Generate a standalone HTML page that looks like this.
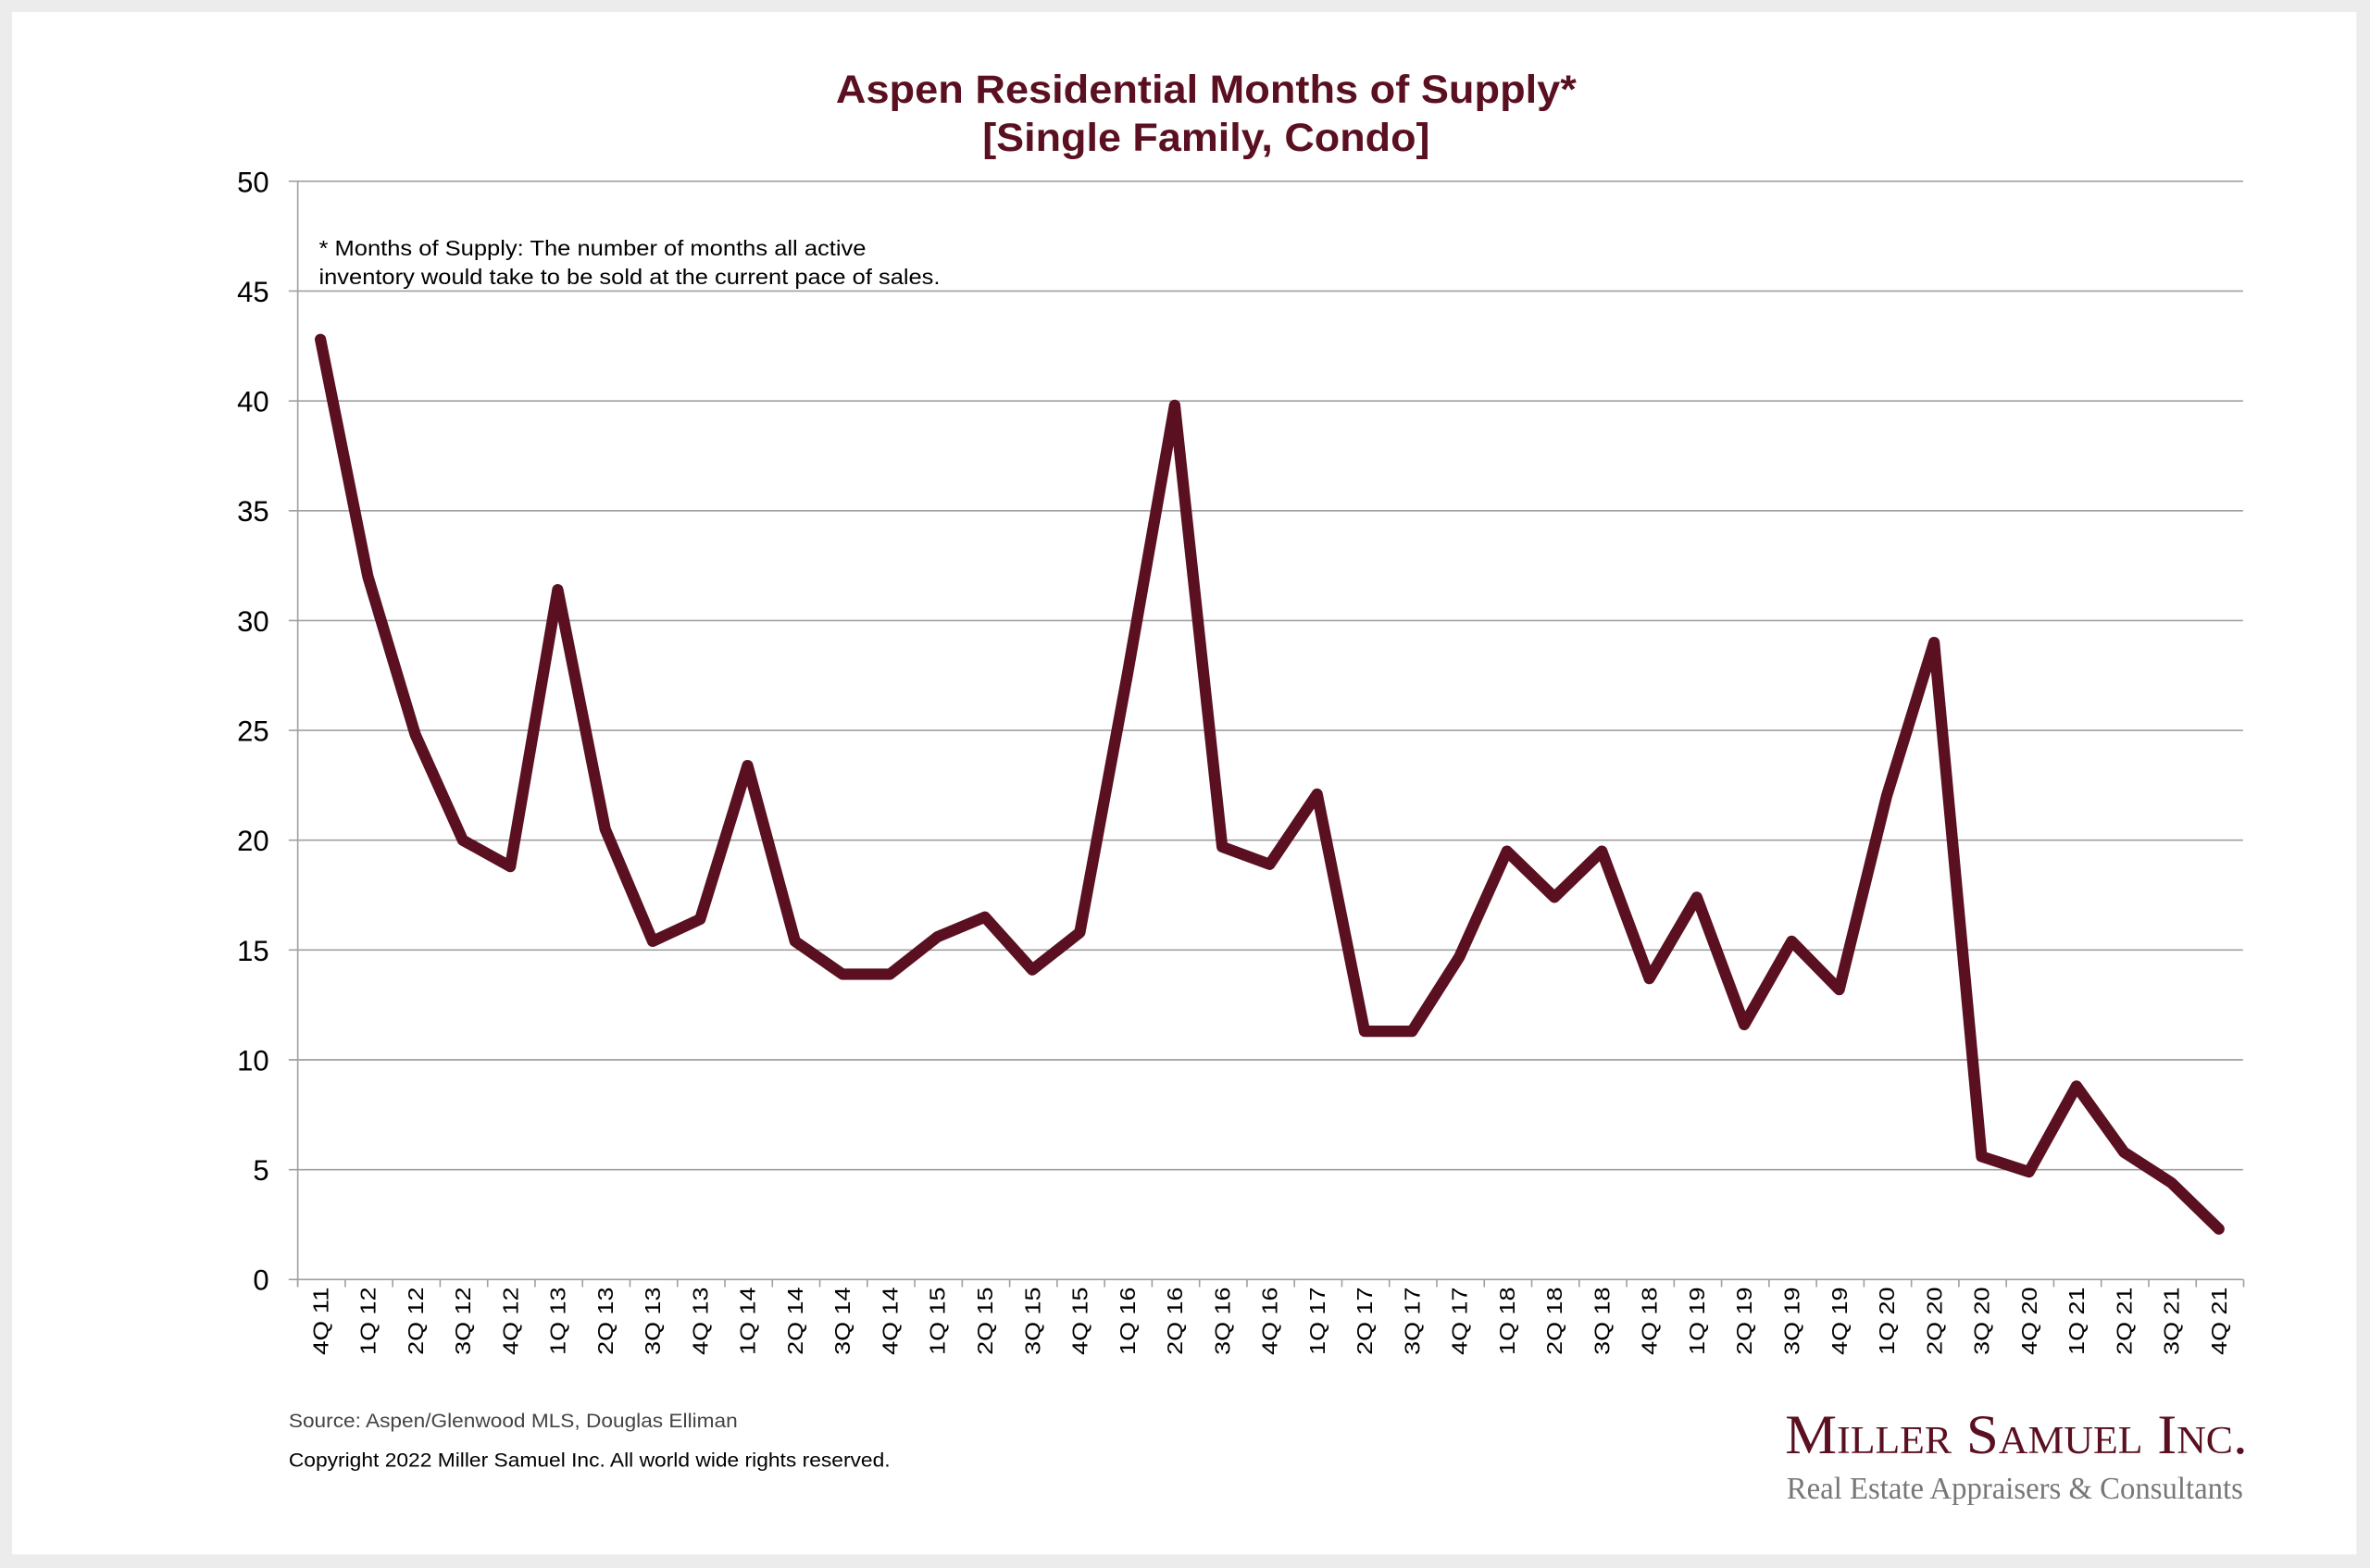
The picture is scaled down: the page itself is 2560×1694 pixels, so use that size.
<!DOCTYPE html>
<html><head><meta charset="utf-8"><style>
html,body{margin:0;padding:0;background:#ececec;}
svg{display:block;}
text{font-family:"Liberation Sans",Arial,sans-serif;}
</style></head><body>
<svg width="2560" height="1694" viewBox="0 0 1568 1038" preserveAspectRatio="none" xmlns="http://www.w3.org/2000/svg">
<rect x="0" y="0" width="1568" height="1038" fill="#ececec"/>
<rect x="8" y="8" width="1551" height="1021" fill="#ffffff"/>
<text x="798" y="68" text-anchor="middle" font-size="26" font-weight="bold" fill="#5a1020" textLength="490" lengthAdjust="spacingAndGlyphs">Aspen Residential Months of Supply*</text>
<text x="798" y="100" text-anchor="middle" font-size="26" font-weight="bold" fill="#5a1020" textLength="296" lengthAdjust="spacingAndGlyphs">[Single Family, Condo]</text>
<g stroke="#a0a0a0" stroke-width="1">
<line x1="191" y1="120" x2="1484" y2="120"/>
<line x1="191" y1="192.7" x2="1484" y2="192.7"/>
<line x1="191" y1="265.4" x2="1484" y2="265.4"/>
<line x1="191" y1="338.1" x2="1484" y2="338.1"/>
<line x1="191" y1="410.8" x2="1484" y2="410.8"/>
<line x1="191" y1="483.5" x2="1484" y2="483.5"/>
<line x1="191" y1="556.2" x2="1484" y2="556.2"/>
<line x1="191" y1="628.9" x2="1484" y2="628.9"/>
<line x1="191" y1="701.6" x2="1484" y2="701.6"/>
<line x1="191" y1="774.3" x2="1484" y2="774.3"/>
<line x1="191" y1="847" x2="1484" y2="847"/>
<line x1="197" y1="120" x2="197" y2="852"/>
</g>
<g stroke="#a0a0a0" stroke-width="1">
<path d="M197 847v5M228.4 847v5M259.8 847v5M291.2 847v5M322.6 847v5M354 847v5M385.4 847v5M416.8 847v5M448.2 847v5M479.6 847v5M511 847v5M542.4 847v5M573.8 847v5M605.2 847v5M636.6 847v5M668 847v5M699.4 847v5M730.8 847v5M762.2 847v5M793.6 847v5M825 847v5M856.4 847v5M887.8 847v5M919.2 847v5M950.6 847v5M982 847v5M1013.4 847v5M1044.8 847v5M1076.2 847v5M1107.6 847v5M1139 847v5M1170.4 847v5M1201.8 847v5M1233.2 847v5M1264.6 847v5M1296 847v5M1327.4 847v5M1358.8 847v5M1390.2 847v5M1421.6 847v5M1453 847v5M1484.4 847v5"/>
</g>
<g font-size="19" fill="#000" text-anchor="end">
<text x="178" y="127">50</text>
<text x="178" y="199.7">45</text>
<text x="178" y="272.4">40</text>
<text x="178" y="345.1">35</text>
<text x="178" y="417.8">30</text>
<text x="178" y="490.5">25</text>
<text x="178" y="563.2">20</text>
<text x="178" y="635.9">15</text>
<text x="178" y="708.6">10</text>
<text x="178" y="781.3">5</text>
<text x="178" y="854">0</text>
</g>
<text x="211" y="169" font-size="14" fill="#000" textLength="362" lengthAdjust="spacingAndGlyphs">* Months of Supply: The number of months all active</text>
<text x="211" y="188" font-size="14" fill="#000" textLength="411" lengthAdjust="spacingAndGlyphs">inventory would take to be sold at the current pace of sales.</text>
<polyline fill="none" stroke="#5a1020" stroke-width="7.5" stroke-linejoin="round" stroke-linecap="round" points="212,224.7 243.4,381.7 274.8,486.4 306.2,556.2 337.6,573.6 369,390.4 400.4,548.9 431.8,623.1 463.2,608.5 494.6,506.8 526,623.1 557.4,644.9 588.8,644.9 620.2,620.2 651.6,607.1 683,642 714.4,617.3 745.8,447.1 777.2,268.3 808.6,560.6 840,572.2 871.4,525.7 902.8,682.7 934.2,682.7 965.6,633.3 997,563.5 1028.4,594 1059.8,563.5 1091.2,647.8 1122.6,594 1154,678.3 1185.4,623.1 1216.8,655.1 1248.2,527.1 1279.6,425.3 1311,765.6 1342.4,775.8 1373.8,719 1405.2,762.7 1436.6,783 1468,813.6"/>
<g font-size="14" fill="#000">
<text transform="translate(217,897) rotate(-90)" textLength="45" lengthAdjust="spacingAndGlyphs">4Q 11</text>
<text transform="translate(248.4,897) rotate(-90)" textLength="45" lengthAdjust="spacingAndGlyphs">1Q 12</text>
<text transform="translate(279.8,897) rotate(-90)" textLength="45" lengthAdjust="spacingAndGlyphs">2Q 12</text>
<text transform="translate(311.2,897) rotate(-90)" textLength="45" lengthAdjust="spacingAndGlyphs">3Q 12</text>
<text transform="translate(342.6,897) rotate(-90)" textLength="45" lengthAdjust="spacingAndGlyphs">4Q 12</text>
<text transform="translate(374,897) rotate(-90)" textLength="45" lengthAdjust="spacingAndGlyphs">1Q 13</text>
<text transform="translate(405.4,897) rotate(-90)" textLength="45" lengthAdjust="spacingAndGlyphs">2Q 13</text>
<text transform="translate(436.8,897) rotate(-90)" textLength="45" lengthAdjust="spacingAndGlyphs">3Q 13</text>
<text transform="translate(468.2,897) rotate(-90)" textLength="45" lengthAdjust="spacingAndGlyphs">4Q 13</text>
<text transform="translate(499.6,897) rotate(-90)" textLength="45" lengthAdjust="spacingAndGlyphs">1Q 14</text>
<text transform="translate(531,897) rotate(-90)" textLength="45" lengthAdjust="spacingAndGlyphs">2Q 14</text>
<text transform="translate(562.4,897) rotate(-90)" textLength="45" lengthAdjust="spacingAndGlyphs">3Q 14</text>
<text transform="translate(593.8,897) rotate(-90)" textLength="45" lengthAdjust="spacingAndGlyphs">4Q 14</text>
<text transform="translate(625.2,897) rotate(-90)" textLength="45" lengthAdjust="spacingAndGlyphs">1Q 15</text>
<text transform="translate(656.6,897) rotate(-90)" textLength="45" lengthAdjust="spacingAndGlyphs">2Q 15</text>
<text transform="translate(688,897) rotate(-90)" textLength="45" lengthAdjust="spacingAndGlyphs">3Q 15</text>
<text transform="translate(719.4,897) rotate(-90)" textLength="45" lengthAdjust="spacingAndGlyphs">4Q 15</text>
<text transform="translate(750.8,897) rotate(-90)" textLength="45" lengthAdjust="spacingAndGlyphs">1Q 16</text>
<text transform="translate(782.2,897) rotate(-90)" textLength="45" lengthAdjust="spacingAndGlyphs">2Q 16</text>
<text transform="translate(813.6,897) rotate(-90)" textLength="45" lengthAdjust="spacingAndGlyphs">3Q 16</text>
<text transform="translate(845,897) rotate(-90)" textLength="45" lengthAdjust="spacingAndGlyphs">4Q 16</text>
<text transform="translate(876.4,897) rotate(-90)" textLength="45" lengthAdjust="spacingAndGlyphs">1Q 17</text>
<text transform="translate(907.8,897) rotate(-90)" textLength="45" lengthAdjust="spacingAndGlyphs">2Q 17</text>
<text transform="translate(939.2,897) rotate(-90)" textLength="45" lengthAdjust="spacingAndGlyphs">3Q 17</text>
<text transform="translate(970.6,897) rotate(-90)" textLength="45" lengthAdjust="spacingAndGlyphs">4Q 17</text>
<text transform="translate(1002,897) rotate(-90)" textLength="45" lengthAdjust="spacingAndGlyphs">1Q 18</text>
<text transform="translate(1033.4,897) rotate(-90)" textLength="45" lengthAdjust="spacingAndGlyphs">2Q 18</text>
<text transform="translate(1064.8,897) rotate(-90)" textLength="45" lengthAdjust="spacingAndGlyphs">3Q 18</text>
<text transform="translate(1096.2,897) rotate(-90)" textLength="45" lengthAdjust="spacingAndGlyphs">4Q 18</text>
<text transform="translate(1127.6,897) rotate(-90)" textLength="45" lengthAdjust="spacingAndGlyphs">1Q 19</text>
<text transform="translate(1159,897) rotate(-90)" textLength="45" lengthAdjust="spacingAndGlyphs">2Q 19</text>
<text transform="translate(1190.4,897) rotate(-90)" textLength="45" lengthAdjust="spacingAndGlyphs">3Q 19</text>
<text transform="translate(1221.8,897) rotate(-90)" textLength="45" lengthAdjust="spacingAndGlyphs">4Q 19</text>
<text transform="translate(1253.2,897) rotate(-90)" textLength="45" lengthAdjust="spacingAndGlyphs">1Q 20</text>
<text transform="translate(1284.6,897) rotate(-90)" textLength="45" lengthAdjust="spacingAndGlyphs">2Q 20</text>
<text transform="translate(1316,897) rotate(-90)" textLength="45" lengthAdjust="spacingAndGlyphs">3Q 20</text>
<text transform="translate(1347.4,897) rotate(-90)" textLength="45" lengthAdjust="spacingAndGlyphs">4Q 20</text>
<text transform="translate(1378.8,897) rotate(-90)" textLength="45" lengthAdjust="spacingAndGlyphs">1Q 21</text>
<text transform="translate(1410.2,897) rotate(-90)" textLength="45" lengthAdjust="spacingAndGlyphs">2Q 21</text>
<text transform="translate(1441.6,897) rotate(-90)" textLength="45" lengthAdjust="spacingAndGlyphs">3Q 21</text>
<text transform="translate(1473,897) rotate(-90)" textLength="45" lengthAdjust="spacingAndGlyphs">4Q 21</text>
</g>
<text x="191" y="945" font-size="13" fill="#444" textLength="297" lengthAdjust="spacingAndGlyphs">Source: Aspen/Glenwood MLS, Douglas Elliman</text>
<text x="191" y="971" font-size="13" fill="#000" textLength="398" lengthAdjust="spacingAndGlyphs">Copyright 2022 Miller Samuel Inc.  All world wide rights reserved.</text>
<text x="1181" y="962" font-size="37" fill="#5a1020" textLength="306" lengthAdjust="spacingAndGlyphs" style="font-variant:small-caps;font-family:'Liberation Serif',serif">Miller Samuel Inc.</text>
<text x="1182" y="992" font-size="21" fill="#777" textLength="302" lengthAdjust="spacingAndGlyphs" style="font-family:'Liberation Serif',serif">Real Estate Appraisers &amp; Consultants</text>
</svg>
</body></html>
